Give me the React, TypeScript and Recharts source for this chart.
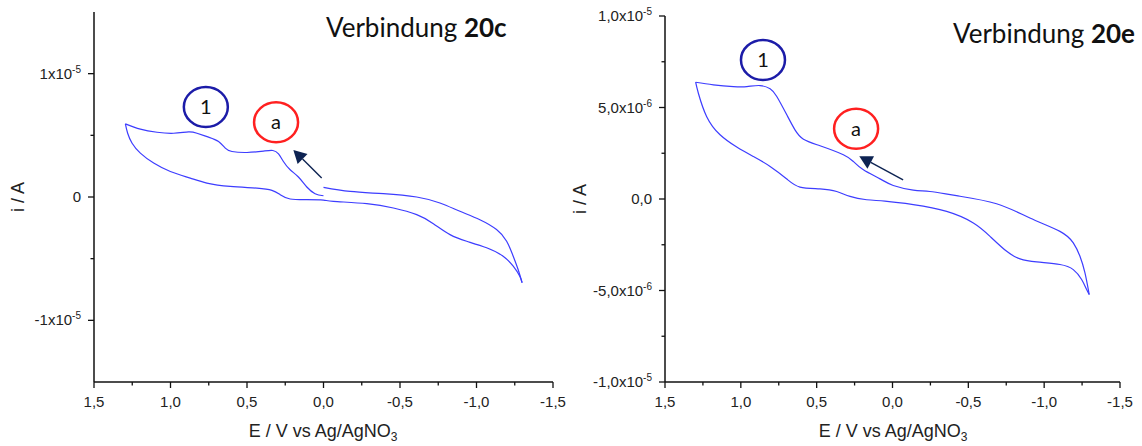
import { LineChart, Line, XAxis, YAxis, ReferenceDot, ReferenceLine } from 'recharts'

// potential axis (V), drawn from +1,5 down to -1,5
const xTicks = [-1.5, -1.25, -1, -0.75, -0.5, -0.25, 0, 0.25, 0.5, 0.75, 1, 1.25, 1.5]
const xTickLabels = ['-1,5', '', '-1,0', '', '-0,5', '', '0,0', '', '0,5', '', '1,0', '', '1,5']

// Verbindung 20c  (E in V, i in µA)
const cFwdE = [0, 0.055, 0.109, 0.164, 0.218, 0.262, 0.294, 0.331, 0.392, 0.5, 0.598, 0.642, 0.686, 0.751, 0.827, 0.882, 0.98, 1.088, 1.197, 1.295]
const cFwdI = [0.1, 0.27, 0.81, 1.62, 2.21, 2.88, 3.5, 3.77, 3.72, 3.61, 3.69, 3.96, 4.5, 4.85, 5.17, 5.28, 5.17, 5.25, 5.5, 5.93]
const cRevE = [1.295, 1.28, 1.251, 1.197, 1.11, 1.001, 0.871, 0.762, 0.61, 0.435, 0.337, 0.283, 0.218, 0.109, 0, -0.065, -0.283, -0.457, -0.609, -0.718, -0.827, -0.936, -1.066, -1.174, -1.24, -1.283, -1.298]
const cRevI = [5.93, 5.17, 4.36, 3.56, 2.75, 2.07, 1.53, 1.13, 0.86, 0.72, 0.54, 0.19, -0.16, -0.22, -0.25, -0.35, -0.54, -0.89, -1.43, -2.16, -3.05, -3.59, -4.12, -4.8, -5.61, -6.42, -6.95]
const cRetE = [-1.298, -1.272, -1.24, -1.197, -1.131, -1.022, -0.892, -0.761, -0.609, -0.391, -0.174, 0]
const cRetI = [-6.95, -5.88, -4.8, -3.59, -2.64, -1.84, -1.16, -0.49, 0, 0.27, 0.45, 0.78]

const cYTicks = [-10, -5, 0, 5, 10]
const cYBase = ['-1x10', '', '0', '', '1x10']
const cYExp = ['-5', '', '', '', '-5']

// Verbindung 20e
const eUpE = [-1.297, -1.269, -1.236, -1.192, -1.104, -0.906, -0.686, -0.422, -0.247, -0.137, -0.005, 0.082, 0.192, 0.258, 0.324, 0.478, 0.587, 0.643, 0.697, 0.763, 0.807, 0.873, 0.96, 1.049, 1.181, 1.298]
const eUpI = [-5.22, -4.04, -3.13, -2.4, -1.77, -1.04, -0.26, 0.18, 0.41, 0.49, 0.74, 1.1, 1.6, 2.05, 2.42, 2.91, 3.27, 3.78, 4.6, 5.6, 6.02, 6.2, 6.14, 6.14, 6.24, 6.38]
const eLowE = [1.298, 1.28, 1.225, 1.137, 1.027, 0.917, 0.807, 0.697, 0.61, 0.478, 0.368, 0.28, 0.17, 0.05, -0.137, -0.357, -0.533, -0.643, -0.753, -0.841, -0.951, -1.104, -1.192, -1.247, -1.28, -1.297]
const eLowI = [6.38, 5.78, 4.5, 3.51, 2.84, 2.32, 1.78, 1.09, 0.65, 0.55, 0.41, 0.14, -0.04, -0.12, -0.31, -0.68, -1.31, -2.04, -2.86, -3.27, -3.44, -3.58, -3.86, -4.4, -4.95, -5.22]

const eYTicks = [-10, -7.5, -5, -2.5, 0, 2.5, 5, 7.5, 10]
const eYBase = ['-1,0x10', '', '-5,0x10', '', '0,0', '', '5,0x10', '', '1,0x10']
const eYExp = ['-5', '', '-6', '', '', '', '-6', '', '-5']

const zip = (es: number[], is: number[]) => es.map((E, k) => ({ E, i: is[k] }))

const AXIS = '#111'
const CURVE = '#3d3dff'
const ARIAL = '"Liberation Sans", Arial, sans-serif'
const CALIBRI = 'Lato, "Open Sans", sans-serif'

function XTick(props: any) {
  const { x, y, payload } = props
  const label = xTickLabels[xTicks.indexOf(payload.value)]
  const major = !!label
  return (
    <g>
      <line x1={x} x2={x} y1={y} y2={y + (major ? 6 : 3.5)} stroke={AXIS} strokeWidth={1.3} />
      {major && (
        <text x={x} y={y + 25} textAnchor="middle" fontSize={15} fill="#222" fontFamily={ARIAL}>
          {label}
        </text>
      )}
    </g>
  )
}

function YTick(props: any) {
  const { x, y, payload, ticks, base, exp } = props
  const idx = ticks.indexOf(payload.value)
  const label = base[idx]
  const major = !!label
  return (
    <g>
      <line x1={x} x2={x - (major ? 6 : 3.5)} y1={y} y2={y} stroke={AXIS} strokeWidth={1.3} />
      {major && (
        <text x={x - 13} y={y + 5} textAnchor="end" fontSize={15} fill="#222" fontFamily={ARIAL}>
          {label}
          {exp[idx] && (
            <tspan dy={-6} fontSize={10}>
              {exp[idx]}
            </tspan>
          )}
        </text>
      )}
    </g>
  )
}

const ring = (label: string, color: string) => (p: any) => (
  <g>
    <ellipse cx={p.cx} cy={p.cy} rx={22} ry={20} fill="none" stroke={color} strokeWidth={2.5} />
    <text x={p.cx} y={p.cy + 7} textAnchor="middle" fontSize={20} fill="#111" fontFamily={CALIBRI}>
      {label}
    </text>
  </g>
)

const arrow = (p: any) => {
  const { x1, y1, x2, y2 } = p
  const a = Math.atan2(y2 - y1, x2 - x1)
  const L = 13
  const W = 7
  const bx = x2 - L * Math.cos(a)
  const by = y2 - L * Math.sin(a)
  const pts = `${x2},${y2} ${bx + W * Math.sin(a)},${by - W * Math.cos(a)} ${bx - W * Math.sin(a)},${by + W * Math.cos(a)}`
  return (
    <g>
      <line x1={x1} y1={y1} x2={bx} y2={by} stroke="#0d2352" strokeWidth={1.4} />
      <polygon points={pts} fill="#0d2352" />
    </g>
  )
}

function CvPanel({ branches, yDomain, yTicks, yBase, yExp, top, right, one, a, arr }: any) {
  return (
    <LineChart width={571} height={446} margin={{ top, right, bottom: 34, left: 10 }}>
      <XAxis
        type="number"
        dataKey="E"
        domain={[-1.5, 1.5]}
        reversed
        allowDataOverflow
        ticks={xTicks}
        interval={0}
        tickSize={0}
        tickMargin={0}
        height={30}
        axisLine={{ stroke: AXIS, strokeWidth: 1.5 }}
        tick={<XTick />}
      />
      <YAxis
        type="number"
        domain={yDomain}
        allowDataOverflow
        ticks={yTicks}
        interval={0}
        tickSize={0}
        tickMargin={0}
        width={84}
        axisLine={{ stroke: AXIS, strokeWidth: 1.5 }}
        tick={<YTick ticks={yTicks} base={yBase} exp={yExp} />}
      />
      {branches.map((b: any, k: number) => (
        <Line
          key={k}
          data={b}
          dataKey="i"
          type="natural"
          stroke={CURVE}
          strokeWidth={1.2}
          dot={false}
          activeDot={false}
          isAnimationActive={false}
        />
      ))}
      <ReferenceDot x={one[0]} y={one[1]} shape={ring('1', '#1c1ca8')} />
      <ReferenceDot x={a[0]} y={a[1]} shape={ring('a', '#ff2020')} />
      <ReferenceLine segment={[{ x: arr[0], y: arr[1] }, { x: arr[2], y: arr[3] }]} shape={arrow} />
    </LineChart>
  )
}

export default function App() {
  return (
    <div style={{ position: 'absolute', left: 0, top: 0, width: 1142, height: 446, background: '#fff' }}>
      <div style={{ position: 'absolute', left: 0, top: 0 }}>
        <CvPanel
          branches={[zip(cFwdE, cFwdI), zip(cRevE, cRevI), zip(cRetE, cRetI)]}
          yDomain={[-15, 15]}
          yTicks={cYTicks}
          yBase={cYBase}
          yExp={cYExp}
          top={12}
          right={18}
          one={[0.769, 7.3]}
          a={[0.31, 6.06]}
          arr={[0.012, 1.54, 0.197, 3.82]}
        />
      </div>
      <div style={{ position: 'absolute', left: 571, top: 0 }}>
        <CvPanel
          branches={[zip(eUpE, eUpI), zip(eLowE, eLowI)]}
          yDomain={[-10, 10]}
          yTicks={eYTicks}
          yBase={eYBase}
          yExp={eYExp}
          top={16}
          right={22}
          one={[0.854, 7.6]}
          a={[0.24, 3.84]}
          arr={[-0.07, 1.05, 0.219, 2.33]}
        />
      </div>
      <svg width={1142} height={446} style={{ position: 'absolute', left: 0, top: 0, pointerEvents: 'none' }}>
        <text x={326} y={37} fontSize={26} fill="#111" fontFamily={CALIBRI}>
          Verbindung <tspan fontWeight="bold">20c</tspan>
        </text>
        <text x={953} y={43} fontSize={26} fill="#111" fontFamily={CALIBRI}>
          Verbindung <tspan fontWeight="bold">20e</tspan>
        </text>
        <text x={323} y={437} textAnchor="middle" fontSize={18} fill="#222" fontFamily={ARIAL}>
          E / V vs Ag/AgNO<tspan dy={4} fontSize={12}>3</tspan>
        </text>
        <text x={893} y={437} textAnchor="middle" fontSize={18} fill="#222" fontFamily={ARIAL}>
          E / V vs Ag/AgNO<tspan dy={4} fontSize={12}>3</tspan>
        </text>
        <text transform="translate(18,197) rotate(-90)" textAnchor="middle" dy="0.35em" fontSize={18} fill="#222" fontFamily={ARIAL}>
          i / A
        </text>
        <text transform="translate(580,199) rotate(-90)" textAnchor="middle" dy="0.35em" fontSize={18} fill="#222" fontFamily={ARIAL}>
          i / A
        </text>
      </svg>
    </div>
  )
}
